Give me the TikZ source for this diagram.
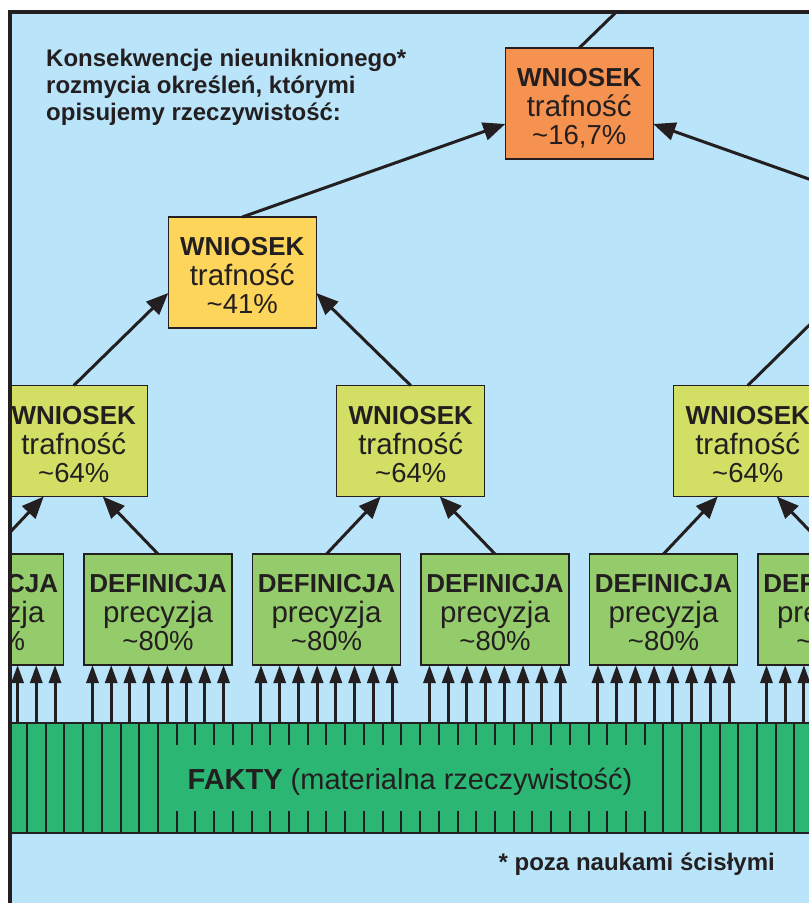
\documentclass[tikz,border=0pt]{standalone}
\usepackage{fontspec}
\setmainfont{Liberation Sans}
\usetikzlibrary{arrows.meta,calc}
\definecolor{bgblue}{HTML}{B9E4F9}
\definecolor{ink}{HTML}{231F20}
\definecolor{korange}{HTML}{F5924F}
\definecolor{kyellow}{HTML}{FDD55B}
\definecolor{klime}{HTML}{D2DF64}
\definecolor{kgreen}{HTML}{94CB6B}
\definecolor{kbar}{HTML}{2BB673}
\tikzset{
  kb/.style={draw=ink, line width=1.3pt, minimum width=148pt, minimum height=111pt, inner sep=0pt, outer sep=0pt},
  kt/.style={anchor=base, inner sep=0pt, text=ink, font=\fontsize{28}{28}\selectfont},
  bigarrow/.style={draw=ink, line width=3pt, -{Triangle[length=22pt,width=18pt]}},
  smallarrow/.style={draw=ink, line width=3pt, -{Triangle[length=18pt,width=12pt]}},
  plainline/.style={draw=ink, line width=3pt},
  barst/.style={draw=ink, fill=kbar, line width=1.3pt, minimum width=890pt, minimum height=110pt, inner sep=0pt, outer sep=0pt},
  barline/.style={draw=ink, line width=2pt},
}
\newcommand\kbox[7]{%
  \node[kb, fill=#4] (#1) at (#2,#3) {};
  \node[kt] (#1-t) at (#2,#3-17) {\begin{tabular}[t]{@{}c@{}}{\bfseries\fontsize{26}{28}\selectfont #5}\\{\fontsize{29.5}{28}\selectfont #6}\\{\fontsize{27.5}{28}\selectfont #7}\end{tabular}};
}
\begin{document}
\begin{tikzpicture}[x=1pt,y=-1pt]
\useasboundingbox (0,0) rectangle (809,903);
\begin{scope}
\clip (0,0) rectangle (809,903);
\fill[white] (0,0) rectangle (809,903);
\begin{scope}
\clip (10,11.5) rectangle (830,920);
\fill[bgblue] (10,11.5) rectangle (830,920);

% title
\node[anchor=base west, inner sep=0pt, text=ink, font=\bfseries\fontsize{24}{27}\selectfont] (title) at (46,66)
  {\begin{tabular}[t]{@{}l@{}}Konsekwencje nieuniknionego*\\rozmycia określeń, którymi\\opisujemy rzeczywistość:\end{tabular}};

% boxes
\kbox{t}{579.25}{103.5}{korange}{WNIOSEK}{trafność}{\textasciitilde16,7\%}
\kbox{y1}{242.25}{272.5}{kyellow}{WNIOSEK}{trafność}{\textasciitilde41\%}
\kbox{w1}{73.75}{441}{klime}{WNIOSEK}{trafność}{\textasciitilde64\%}
\kbox{w2}{410.75}{441}{klime}{WNIOSEK}{trafność}{\textasciitilde64\%}
\kbox{w3}{747.75}{441}{klime}{WNIOSEK}{trafność}{\textasciitilde64\%}
\foreach \k in {0,...,5} {
  \kbox{d\k}{-10.5+168.5*\k}{609.5}{kgreen}{DEFINICJA}{precyzja}{\textasciitilde80\%}
}

% facts bar
\node[barst] (bar) at (455,778) {};
\foreach \m in {-7,...,0,27,28,...,35} {
  \draw[barline] (158+18.72*\m,723) -- (158+18.72*\m,833);
}
\foreach \m in {1,...,26} {
  \draw[barline] (158+18.72*\m,723) -- (158+18.72*\m,745);
  \draw[barline] (158+18.72*\m,811) -- (158+18.72*\m,833);
}
\node[anchor=base, inner sep=0pt, text=ink, font=\fontsize{29}{29}\selectfont] (fakty) at (410,789)
  {\textbf{FAKTY} (materialna rzeczywistość)};

% connectors
\coordinate (tp) at (642,-13);
\draw[plainline] (t.north) -- (tp);
\draw[bigarrow] (y1.north) -- ([yshift=-20.5pt]t.west);
\coordinate (rA) at (916.25,217);
\draw[bigarrow] (rA) -- ([yshift=-20.5pt]t.east);
\draw[bigarrow] (w1.north) -- ([yshift=-20.5pt]y1.west);
\draw[bigarrow] (w2.north) -- ([yshift=-20.5pt]y1.east);
\coordinate (rB) at (842,293);
\draw[plainline] (w3.north) -- (rB);
\draw[bigarrow] (d0.north) -- ([xshift=-30pt]w1.south);
\draw[bigarrow] (d1.north) -- ([xshift=29pt]w1.south);
\draw[bigarrow] (d2.north) -- ([xshift=-30pt]w2.south);
\draw[bigarrow] (d3.north) -- ([xshift=29pt]w2.south);
\draw[bigarrow] (d4.north) -- ([xshift=-30pt]w3.south);
\draw[bigarrow] (d5.north) -- ([xshift=29pt]w3.south);
\foreach \k in {0,...,5} {
  \foreach \j in {0,...,7} {
    \coordinate (a\k\j) at ($(d\k.south)+({(\j-3.5)*18.72},0)$);
    \draw[smallarrow] (a\k\j |- bar.north) -- (a\k\j);
  }
}

% footnote
\node[anchor=base east, inner sep=0pt, text=ink, font=\bfseries\fontsize{24}{26}\selectfont] (note) at (775,870)
  {* poza naukami ścisłymi};
\end{scope}
\draw[ink, line width=4pt, line join=miter] (10,920) -- (10,11.5) -- (830,11.5);
\end{scope}
\end{tikzpicture}
\end{document}
